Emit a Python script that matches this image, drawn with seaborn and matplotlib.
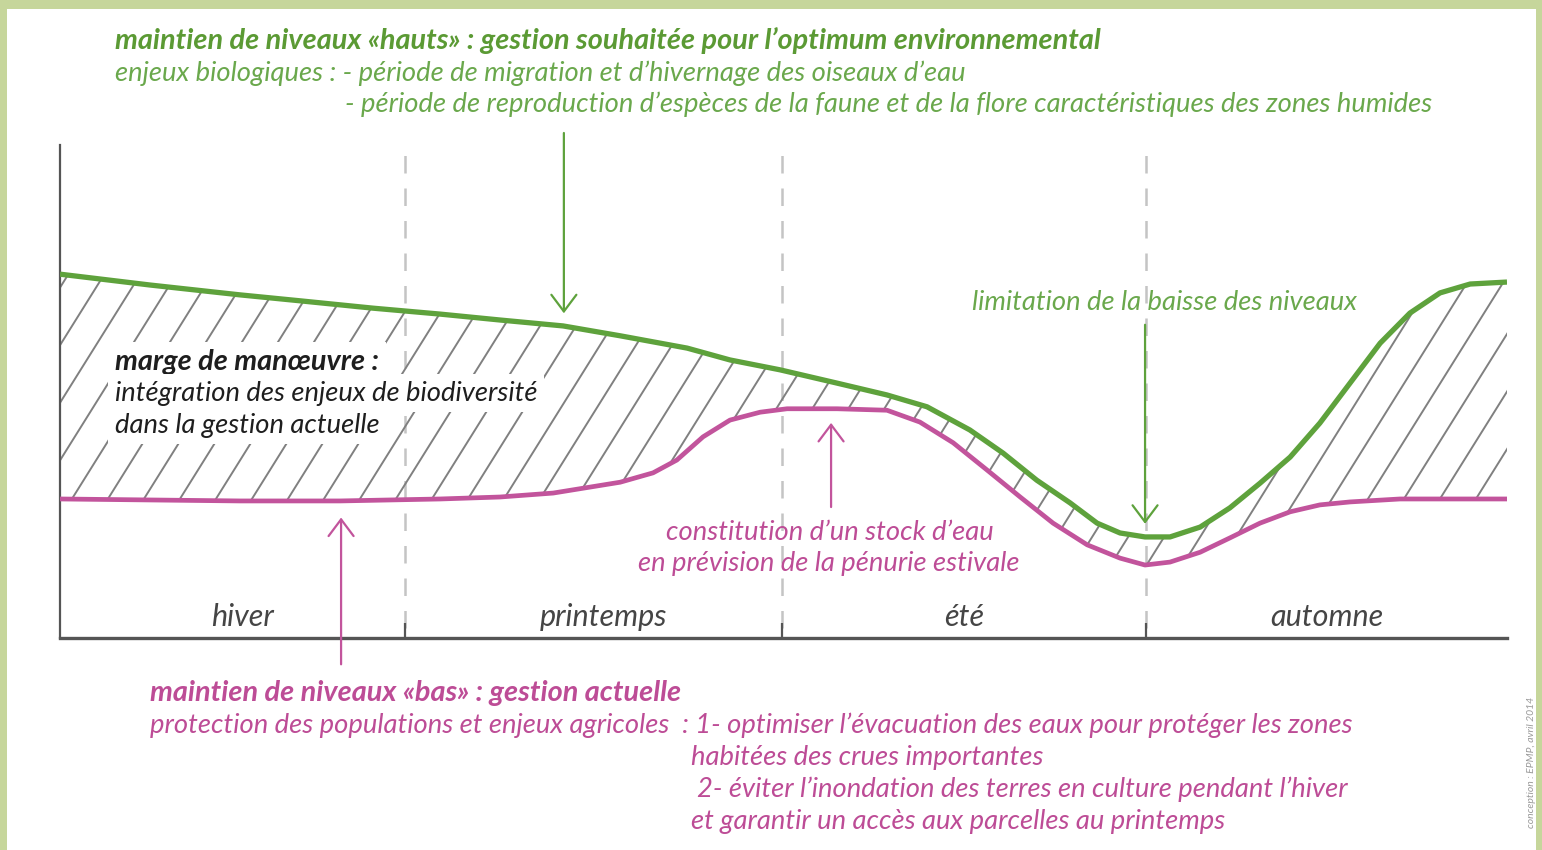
import numpy as np
import matplotlib
matplotlib.use("Agg")
import matplotlib.pyplot as plt
from matplotlib.collections import LineCollection
from matplotlib.patches import Rectangle
import seaborn as sns

# ---------------------------------------------------------------
# data: day of year (0-365) vs relative water level (0-100)
# ---------------------------------------------------------------
high_days = [0.0, 22.7, 45.4, 60.5, 79.0, 95.9, 111.0, 126.9, 141.3, 158.2, 169.0, 181.6,
             196.0, 208.6, 218.7, 229.5, 237.9, 246.4, 254.8, 261.6, 267.4, 273.7, 280.0,
             287.6, 295.1, 302.7, 310.3, 317.8, 325.4, 333.0, 340.5, 348.1, 355.7, 365.0]
high_level = [73.8, 71.6, 69.6, 68.4, 66.9, 65.7, 64.5, 63.3, 61.3, 58.8, 56.4, 54.4,
              51.7, 49.3, 46.9, 42.2, 37.5, 32.0, 27.4, 23.3, 21.3, 20.5, 20.5,
              22.5, 26.4, 31.4, 36.7, 43.6, 51.7, 59.8, 65.9, 70.0, 71.8, 72.2]

low_days = [0.0, 22.7, 45.4, 70.6, 95.9, 111.0, 124.4, 141.3, 149.6, 155.6, 162.2, 169.0,
            176.6, 183.4, 196.0, 208.6, 216.9, 225.3, 233.8, 242.2, 250.5, 259.1, 267.4,
            273.7, 280.0, 287.6, 295.1, 302.7, 310.3, 317.8, 325.4, 338.0, 365.0]
low_level = [28.2, 28.0, 27.8, 27.8, 28.2, 28.6, 29.4, 31.6, 33.5, 36.1, 40.8, 44.2,
             45.8, 46.5, 46.5, 46.2, 43.8, 39.6, 34.1, 28.6, 23.3, 18.9, 16.2,
             14.8, 15.4, 17.4, 20.3, 23.3, 25.6, 27.0, 27.6, 28.2, 28.2]

season_names = ["hiver", "printemps", "été", "automne"]
season_bounds = [0, 87, 182, 274, 365]

GREEN = "#5ea23c"
GREEN_TXT = "#6aa84c"
GREEN_DARK = "#5b9a34"
PINK = "#c2549c"
PINK_TXT = "#bd4c96"
HATCH = "#808080"

sns.set_theme(style="white")
plt.rcParams["font.family"] = ["Lato", "DejaVu Sans"]

W, H = 1542, 850
fig = plt.figure(figsize=(W / 100, H / 100), dpi=100)
fig.patch.set_facecolor("#c6d69b")
fig.patches.append(Rectangle((7 / W, 0), 1529 / W, 1 - 9 / H, transform=fig.transFigure,
                             facecolor="white", edgecolor="none", zorder=-10))


def px(x, y):
    return x / W, 1 - y / H


ax = fig.add_axes([60 / W, (H - 638) / H, 1447 / W, 493 / H])
ax.set_facecolor("none")
ax.set_xlim(0, 365)
ax.set_ylim(0, 100)

# hatched "marge de manoeuvre" between the two curves
poly = ax.fill(np.r_[high_days, low_days[::-1]], np.r_[high_level, low_level[::-1]],
               facecolor="none", edgecolor="none")[0]
slope = 1.6 * (1447 / 365) / 4.93          # ~58 deg on screen
step = 36 * 365 / 1447                      # ~36 px between lines
starts = np.arange(3.0 - 28.2 / slope - 40 * step, 400, step)
segs = [[(c, 0), (c + 100 / slope, 100)] for c in starts]
lc = LineCollection(segs, colors=HATCH, linewidths=1.4, zorder=1)
lc.set_clip_path(poly)
ax.add_collection(lc)

# the two management curves
sns.lineplot(x=high_days, y=high_level, ax=ax, color=GREEN, linewidth=3.8, sort=False,
             zorder=4, solid_joinstyle="round", solid_capstyle="butt")
sns.lineplot(x=low_days, y=low_level, ax=ax, color=PINK, linewidth=3.4, sort=False,
             zorder=4, solid_joinstyle="round", solid_capstyle="butt")

# season dividers
for b in season_bounds[1:-1]:
    ax.axvline(b, ymin=0.02, ymax=1, color="#c4c4c4", lw=1.8, dashes=(7, 6), zorder=0.5)
ax.set_xticks(season_bounds[1:-1])
ax.set_xticklabels([])
ax.set_yticks([])
ax.tick_params(axis="x", direction="in", length=11, width=1.6, color="#555555", bottom=True)
for i, name in enumerate(season_names):
    mid = (season_bounds[i] + season_bounds[i + 1]) / 2
    ax.text(mid + (2.5 if i < 2 else 0), 4.2, name, ha="center", va="center",
            fontsize=22, style="italic", color="#454545")

sns.despine(ax=ax, top=True, right=True)
ax.spines["left"].set_color("#555555")
ax.spines["left"].set_linewidth(1.6)
ax.spines["bottom"].set_color("#555555")
ax.spines["bottom"].set_linewidth(2.4)

# arrows
arrow = "->,head_length=0.4,head_width=0.3"
ax.annotate("", xy=(127.1, 65.3), xytext=(127.1, 103.0), annotation_clip=False,
            arrowprops=dict(arrowstyle=arrow, color=GREEN, lw=1.6, mutation_scale=30))
ax.annotate("", xy=(273.7, 22.6), xytext=(273.7, 64.1), annotation_clip=False,
            arrowprops=dict(arrowstyle=arrow, color=GREEN, lw=1.6, mutation_scale=30))
ax.annotate("", xy=(194.5, 44.2), xytext=(194.5, 26.0), annotation_clip=False,
            arrowprops=dict(arrowstyle=arrow, color=PINK, lw=1.6, mutation_scale=30))
ax.annotate("", xy=(70.9, 25.0), xytext=(70.9, -5.9), annotation_clip=False,
            arrowprops=dict(arrowstyle=arrow, color=PINK, lw=1.6, mutation_scale=30))

# texts
fs = 19.7
fsb = 20.8
fig.text(*px(115, 41), "maintien de niveaux «hauts» : gestion souhaitée pour l’optimum environnemental",
         color=GREEN_DARK, fontsize=fsb, weight="bold", style="italic", va="center")
fig.text(*px(115, 73), "enjeux biologiques : - période de migration et d’hivernage des oiseaux d’eau",
         color=GREEN_TXT, fontsize=fs, style="italic", va="center")
fig.text(*px(345, 104), "- période de reproduction d’espèces de la faune et de la flore caractéristiques des zones humides",
         color=GREEN_TXT, fontsize=fs, style="italic", va="center")

box = dict(facecolor="white", edgecolor="none", pad=5)
fig.text(*px(115, 362), "marge de manœuvre :", color="#1e1e1e", fontsize=fsb, weight="bold",
         style="italic", va="center", bbox=box, zorder=3)
fig.text(*px(115, 393), "intégration des enjeux de biodiversité", color="#1e1e1e", fontsize=fs,
         style="italic", va="center", bbox=box, zorder=3)
fig.text(*px(115, 425), "dans la gestion actuelle", color="#1e1e1e", fontsize=fs,
         style="italic", va="center", bbox=box, zorder=3)

fig.text(*px(1164, 303), "limitation de la baisse des niveaux", color=GREEN_TXT, fontsize=fs,
         style="italic", va="center", ha="center")
fig.text(*px(830, 532), "constitution d’un stock d’eau", color=PINK_TXT, fontsize=fs,
         style="italic", va="center", ha="center")
fig.text(*px(829, 563), "en prévision de la pénurie estivale", color=PINK_TXT, fontsize=fs,
         style="italic", va="center", ha="center")

fig.text(*px(150, 693), "maintien de niveaux «bas» : gestion actuelle", color=PINK_TXT, fontsize=fsb,
         weight="bold", style="italic", va="center")
fig.text(*px(150, 725), "protection des populations et enjeux agricoles  : 1- optimiser l’évacuation des eaux pour protéger les zones",
         color=PINK_TXT, fontsize=fs, style="italic", va="center")
fig.text(*px(691, 757), "habitées des crues importantes", color=PINK_TXT, fontsize=fs,
         style="italic", va="center")
fig.text(*px(697, 789), "2- éviter l’inondation des terres en culture pendant l’hiver", color=PINK_TXT,
         fontsize=fs, style="italic", va="center")
fig.text(*px(691, 821), "et garantir un accès aux parcelles au printemps", color=PINK_TXT, fontsize=fs,
         style="italic", va="center")

fig.text(*px(1531, 762), "conception : EPMP, avril 2014", color="#9a9a9a", fontsize=7.5,
         style="italic", rotation=90, va="center", ha="center")

fig.savefig("out.png", dpi=100, facecolor=fig.get_facecolor())
